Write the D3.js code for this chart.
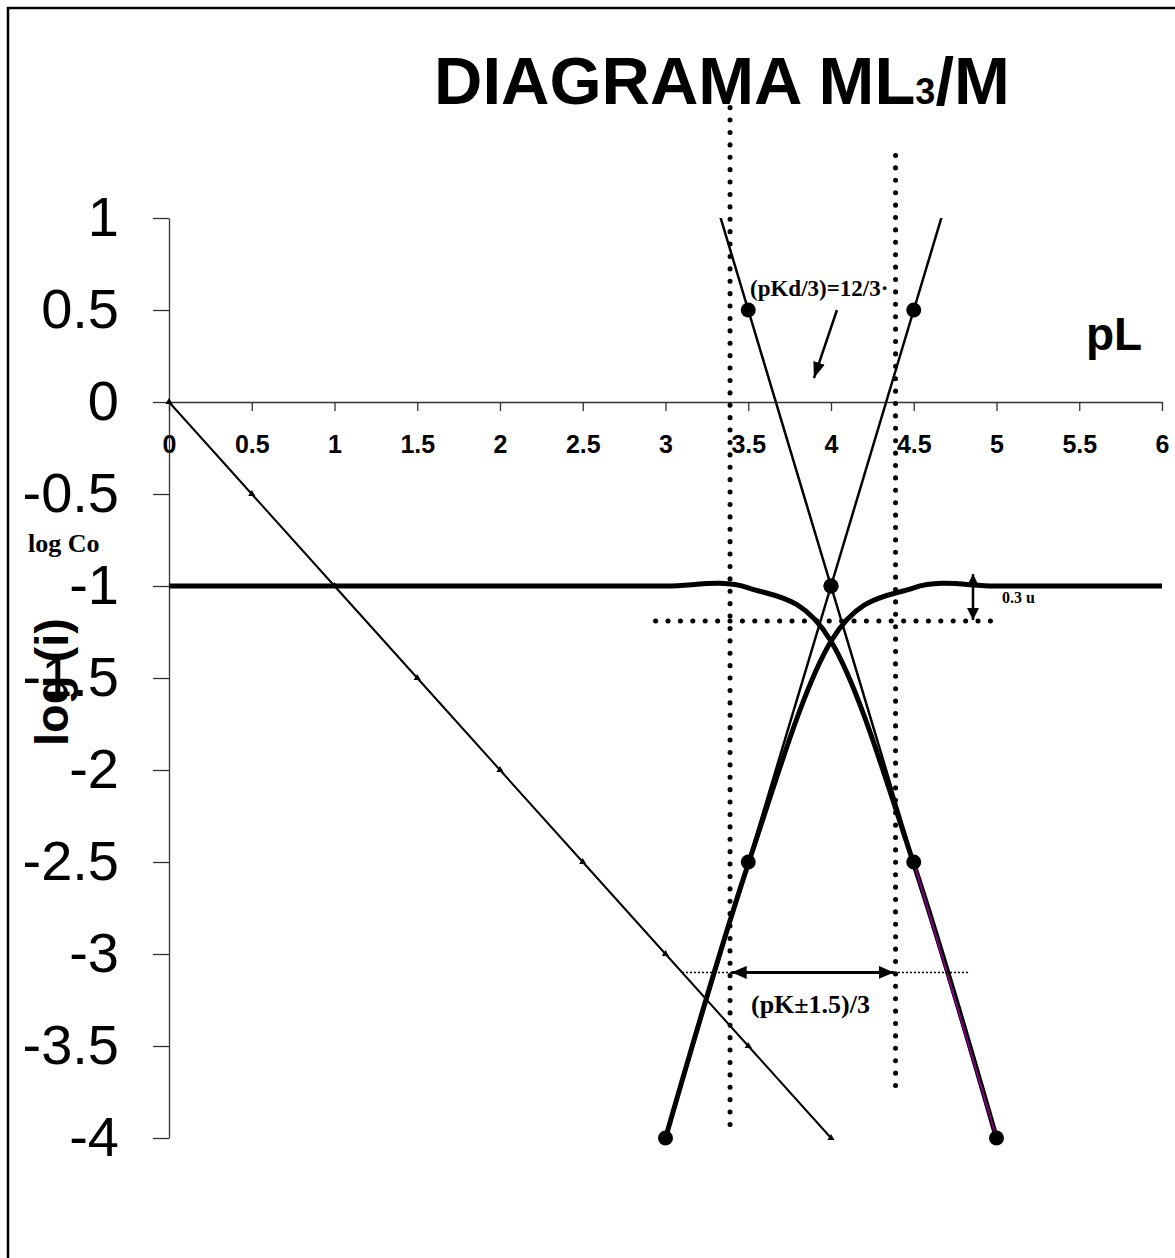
<!DOCTYPE html>
<meta charset="utf-8" />
<script src="https://d3js.org/d3.v7.min.js"></script>
<style>
  body { margin: 0; background: #fff; }
  svg { display: block; }
</style>
<div id="diagram"></div>
<script>
  // axis ticks
  const pLTicks = [0, 0.5, 1, 1.5, 2, 2.5, 3, 3.5, 4, 4.5, 5, 5.5, 6];
  const logTicks = [1, 0.5, 0, -0.5, -1, -1.5, -2, -2.5, -3, -3.5, -4];

  // log [L] (thin line, small triangles)
  const ligandX = [0, 0.5, 1, 1.5, 2, 2.5, 3, 3.5, 4];
  const ligandY = [0, -0.5, -1, -1.5, -2, -2.5, -3, -3.5, -4];

  // log [ML3] (thick smoothed curve)
  const ml3X = [0, 0.5, 1, 1.5, 2, 2.5, 3, 3.5, 4, 4.5, 5];
  const ml3Y = [-1, -1, -1, -1, -1, -1, -1, -1.01, -1.3, -2.51, -4];

  // log [M] (thick smoothed curve)
  const mX = [3, 3.5, 4, 4.5, 5, 5.5, 6];
  const mY = [-4, -2.51, -1.3, -1.01, -1, -1, -1];

  // asymptotes (thin lines, big dots)
  const asymX = [3, 3.5, 4, 4.5, 5];
  const asymDownY = [2, 0.5, -1, -2.5, -4];
  const asymUpY = [-4, -2.5, -1, 0.5, 2];

  const W = 1175, H = 1258;
  const svg = d3.select("#diagram").append("svg")
    .attr("width", W).attr("height", H);

  const x = d3.scaleLinear().domain([0, 6]).range([169, 1162]);
  const y = d3.scaleLinear().domain([1, -4]).range([218, 1138]);

  // outer frame
  svg.append("rect")
    .attr("x", 8).attr("y", 8)
    .attr("width", W + 50).attr("height", H + 50)
    .attr("fill", "none").attr("stroke", "#000").attr("stroke-width", 2.5);

  // arrowheads
  const defs = svg.append("defs");
  function head(id, w, l) {
    defs.append("marker")
      .attr("id", id)
      .attr("viewBox", `0 ${-w / 2} ${l} ${w}`)
      .attr("refX", l).attr("refY", 0)
      .attr("markerUnits", "userSpaceOnUse")
      .attr("markerWidth", l).attr("markerHeight", w)
      .attr("orient", "auto-start-reverse")
      .append("path")
      .attr("d", `M0,${-w / 2}L${l},0L0,${w / 2}Z`)
      .attr("fill", "#000");
  }
  head("big", 13, 15);
  head("mid", 12, 16);
  head("small", 12, 12);

  defs.append("clipPath").attr("id", "plot")
    .append("rect")
    .attr("x", x(0) - 5).attr("y", y(1))
    .attr("width", x(6) - x(0) + 10).attr("height", y(-4) - y(1) + 10);

  // axes
  const xAxis = svg.append("g")
    .attr("transform", `translate(0,${y(0)})`)
    .call(d3.axisBottom(x).tickValues(pLTicks).tickSize(9).tickSizeOuter(0)
      .tickPadding(24).tickFormat(d => String(d)));
  xAxis.selectAll("text")
    .style("font-family", "'Liberation Sans', Arial, sans-serif")
    .style("font-weight", "bold").style("font-size", "25px").attr("fill", "#000");

  const yAxis = svg.append("g")
    .attr("transform", `translate(${x(0)},0)`)
    .call(d3.axisLeft(y).tickValues(logTicks).tickSize(16).tickSizeOuter(0)
      .tickPadding(34).tickFormat(d => String(d)));
  yAxis.selectAll("text")
    .style("font-family", "'Liberation Sans', Arial, sans-serif")
    .style("font-size", "56px").attr("fill", "#000");

  svg.selectAll(".domain, .tick line").attr("stroke", "#333").attr("stroke-width", 1.3);

  const pts = (xs, ys) => xs.map((v, i) => [v, ys[i]]);
  const straight = d3.line().x(d => x(d[0])).y(d => y(d[1]));
  const smooth = d3.line().x(d => x(d[0])).y(d => y(d[1])).curve(d3.curveCardinal.tension(0));

  const plot = svg.append("g").attr("clip-path", "url(#plot)");

  // thick curves
  plot.append("path").datum(pts(ml3X, ml3Y))
    .attr("d", smooth).attr("fill", "none").attr("stroke", "#000").attr("stroke-width", 5);
  plot.append("path").datum(pts(mX, mY))
    .attr("d", smooth).attr("fill", "none").attr("stroke", "#000").attr("stroke-width", 5);

  // log L line
  plot.append("path").datum(pts(ligandX, ligandY))
    .attr("d", straight).attr("fill", "none").attr("stroke", "#000").attr("stroke-width", 2);

  // asymptotes
  const down = pts(asymX, asymDownY), up = pts(asymX, asymUpY);
  plot.append("path").datum(down)
    .attr("d", straight).attr("fill", "none").attr("stroke", "#000").attr("stroke-width", 2.5);
  plot.append("path").datum(up)
    .attr("d", straight).attr("fill", "none").attr("stroke", "#000").attr("stroke-width", 2.5);
  // last segment of the falling asymptote is purple
  plot.append("path").datum(down.slice(-2))
    .attr("d", straight).attr("fill", "none").attr("stroke", "#800080").attr("stroke-width", 2);

  // markers
  svg.append("g").selectAll("path")
    .data(pts(ligandX, ligandY))
    .join("path")
    .attr("transform", d => `translate(${x(d[0])},${y(d[1])})`)
    .attr("d", d3.symbol(d3.symbolTriangle, 22))
    .attr("fill", "#000");

  svg.append("g").selectAll("circle")
    .data(down.concat(up).filter(d => d[1] <= 1))
    .join("circle")
    .attr("cx", d => x(d[0])).attr("cy", d => y(d[1]))
    .attr("r", 7.5).attr("fill", "#000");

  // dotted guides
  function dotted(x1, y1, x2, y2) {
    svg.append("line")
      .attr("x1", x(x1)).attr("y1", y(y1)).attr("x2", x(x2)).attr("y2", y(y2))
      .attr("stroke", "#000").attr("stroke-width", 5)
      .attr("stroke-linecap", "round").attr("stroke-dasharray", "0.1 12.3");
  }
  dotted(3.39, 1.6, 3.39, -3.96);
  dotted(4.39, 1.34, 4.39, -3.75);
  dotted(2.94, -1.19, 4.98, -1.19);

  svg.append("line")
    .attr("x1", x(3.1)).attr("y1", y(-3.1)).attr("x2", x(4.83)).attr("y2", y(-3.1))
    .attr("stroke", "#000").attr("stroke-width", 1.5).attr("stroke-dasharray", "2 2");

  // arrows
  svg.append("line")
    .attr("x1", x(3.4)).attr("y1", y(-3.1)).attr("x2", x(4.38)).attr("y2", y(-3.1))
    .attr("stroke", "#000").attr("stroke-width", 3)
    .attr("marker-start", "url(#big)").attr("marker-end", "url(#big)");
  svg.append("line")
    .attr("x1", x(4.036)).attr("y1", y(0.5)).attr("x2", x(3.897)).attr("y2", y(0.13))
    .attr("stroke", "#000").attr("stroke-width", 2.5)
    .attr("marker-end", "url(#mid)");
  svg.append("line")
    .attr("x1", x(4.858)).attr("y1", y(-0.935)).attr("x2", x(4.858)).attr("y2", y(-1.185))
    .attr("stroke", "#000").attr("stroke-width", 2.5)
    .attr("marker-start", "url(#small)").attr("marker-end", "url(#small)");

  // texts
  const title = svg.append("text")
    .attr("x", 434).attr("y", 104)
    .style("font-family", "'Liberation Sans', Arial, sans-serif")
    .style("font-weight", "bold").style("font-size", "67px");
  title.append("tspan").text("DIAGRAMA ML");
  title.append("tspan").style("font-size", "36px").text("3");
  title.append("tspan").text("/M");

  svg.append("text")
    .attr("x", 1086).attr("y", 350)
    .style("font-family", "'Liberation Sans', Arial, sans-serif")
    .style("font-weight", "bold").style("font-size", "46px")
    .text("pL");

  svg.append("text")
    .attr("transform", "translate(68,682) rotate(-90)")
    .attr("text-anchor", "middle")
    .style("font-family", "'Liberation Sans', Arial, sans-serif")
    .style("font-weight", "bold").style("font-size", "47px")
    .text("log (i)");

  const serif = "'Liberation Serif', 'Times New Roman', serif";
  svg.append("text")
    .attr("x", 28).attr("y", 552)
    .style("font-family", serif).style("font-weight", "bold").style("font-size", "26px")
    .text("log Co");

  svg.append("text")
    .attr("x", 750).attr("y", 296)
    .style("font-family", serif).style("font-weight", "bold").style("font-size", "23px")
    .text("(pKd/3)=12/3·");

  svg.append("text")
    .attr("x", 751).attr("y", 1013)
    .style("font-family", serif).style("font-weight", "bold").style("font-size", "26px")
    .text("(pK±1.5)/3");

  svg.append("text")
    .attr("x", 1002).attr("y", 603)
    .style("font-family", serif).style("font-weight", "bold").style("font-size", "16px")
    .text("0.3 u");
</script>
